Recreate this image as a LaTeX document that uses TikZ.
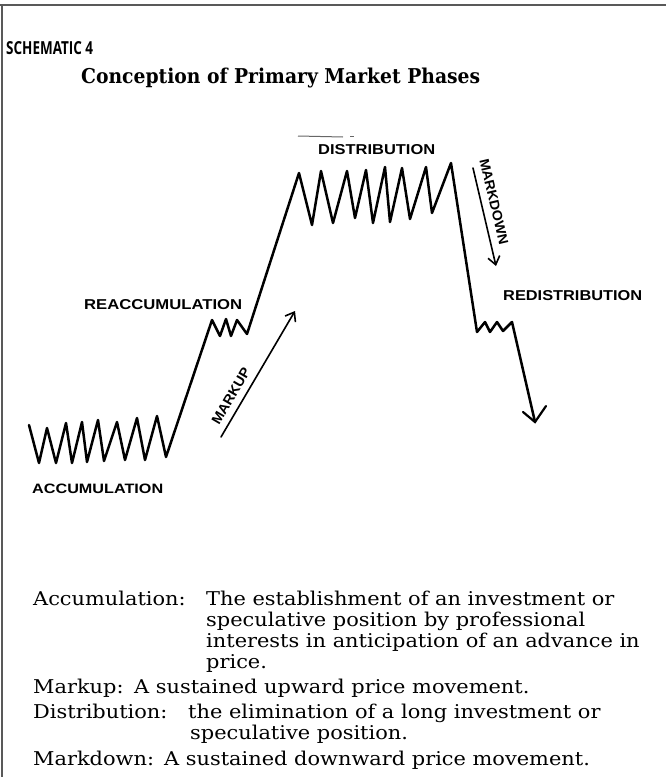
\documentclass[tikz,border=0pt]{standalone}
\usepackage{fontspec}
\setmainfont{DejaVu Serif}
\newfontfamily\labfont{Liberation Sans}
\newfontfamily\schfont{Open Sans}
\usetikzlibrary{arrows.meta}
\newcommand\fitbox[3]{\resizebox{#1pt}{#2pt}{#3}}
\newcommand\btext[1]{\scalebox{1.1}[1]{#1}}
\begin{document}
\begin{tikzpicture}[x=1pt,y=-1pt,
  price/.style={line width=2.5pt, line join=round, line cap=round},
  guide/.style={line width=1.6pt, line cap=round},
  lab/.style={inner sep=0pt, anchor=south west},
  rlab/.style={inner sep=0pt, anchor=center},
  body/.style={inner sep=0pt, anchor=base west, font=\fontsize{19}{22}\selectfont},
  frame/.style={line width=2pt, draw=black!65},
]
\useasboundingbox (0,0) rectangle (666,777);
\fill[white] (0,0) rectangle (666,777);
\draw[frame] (0,4.5) -- (666,4.5);
\draw[frame] (1.5,4.5) -- (1.5,777);

% headings
\node[lab, anchor=base west] (sch) at (6,54) {\fitbox{87}{13}{\schfont\bfseries SCHEMATIC 4}};
\node[lab, anchor=base west] (title) at (81,83) {\fitbox{399}{15.5}{\bfseries Conception of Primary Market Phases}};

% price path
\draw[price] (29,425) -- (39,463) -- (47,428) -- (56,463) -- (66,423) -- (72,463)
  -- (82,422) -- (87,462) -- (98,420) -- (104,461) -- (117,422) -- (125,460)
  -- (137,418) -- (145,460) -- (157,416) -- (166,457)
  -- (212,320) -- (220,336) -- (226,319) -- (231,336) -- (237,320) -- (247,334)
  -- (299,173) -- (312,225) -- (321,171) -- (333,223) -- (347,171) -- (355,218)
  -- (366,170) -- (373,223) -- (385,167) -- (390,222) -- (402,168) -- (410,219)
  -- (426,167) -- (432,213) -- (451,163)
  -- (477,332) -- (485,322) -- (490,332) -- (497,322) -- (503,331) -- (512,322)
  -- (535,422);
\coordinate (rtip) at (535,422);
\draw[line width=2.2pt, line cap=round] (523,412) -- (rtip) -- (546,406);

% markup / markdown arrows
\coordinate (mu1) at (221,437);
\coordinate (mu2) at (295,311);
\draw[guide,-{Straight Barb[length=8pt,width=12pt,line width=1.6pt]}] (mu1) -- (mu2);
\coordinate (md1) at (473,168);
\coordinate (md2) at (496,266);
\draw[guide,-{Straight Barb[length=8pt,width=12pt,line width=1.6pt]}] (md1) -- (md2);

% labels
\node[lab] (acc) at (32,494) {\fitbox{131}{9.5}{\labfont\bfseries ACCUMULATION}};
\node[lab] (reacc) at (84,310) {\fitbox{158}{10}{\labfont\bfseries REACCUMULATION}};
\node[lab] (dist) at (318,155) {\fitbox{117}{10}{\labfont\bfseries DISTRIBUTION}};
\draw[line width=1pt, draw=black!60] (298,136) -- (343,137);
\draw[line width=1pt, draw=black!60] (350,136) -- (354,136);
\node[lab] (redist) at (503,301) {\fitbox{139}{10}{\labfont\bfseries REDISTRIBUTION}};
\node[rlab, rotate=59.6] (mkup) at (231,396) {\fitbox{63}{9.5}{\labfont\bfseries MARKUP}};
\node[rlab, rotate=-76.7] (mkdn) at (494,202) {\fitbox{88}{9.5}{\labfont\bfseries MARKDOWN}};

% definitions
\node[body] (d1a) at (33,605) {\btext{Accumulation:}};
\node[body] (d1b) at (206,605) {\btext{The establishment of an investment or}};
\node[body] (d1c) at (206,626) {\btext{speculative position by professional}};
\node[body] (d1d) at (206,647) {\btext{interests in anticipation of an advance in}};
\node[body] (d1e) at (206,668) {\btext{price.}};
\node[body] (d2a) at (33,693) {\btext{Markup:}};
\node[body] (d2b) at (134,693) {\btext{A sustained upward price movement.}};
\node[body] (d3a) at (33,718) {\btext{Distribution:}};
\node[body] (d3b) at (188,718) {\btext{the elimination of a long investment or}};
\node[body] (d3c) at (190,739) {\btext{speculative position.}};
\node[body] (d4a) at (33,765) {\btext{Markdown:}};
\node[body] (d4b) at (164,765) {\btext{A sustained downward price movement.}};
\end{tikzpicture}
\end{document}
